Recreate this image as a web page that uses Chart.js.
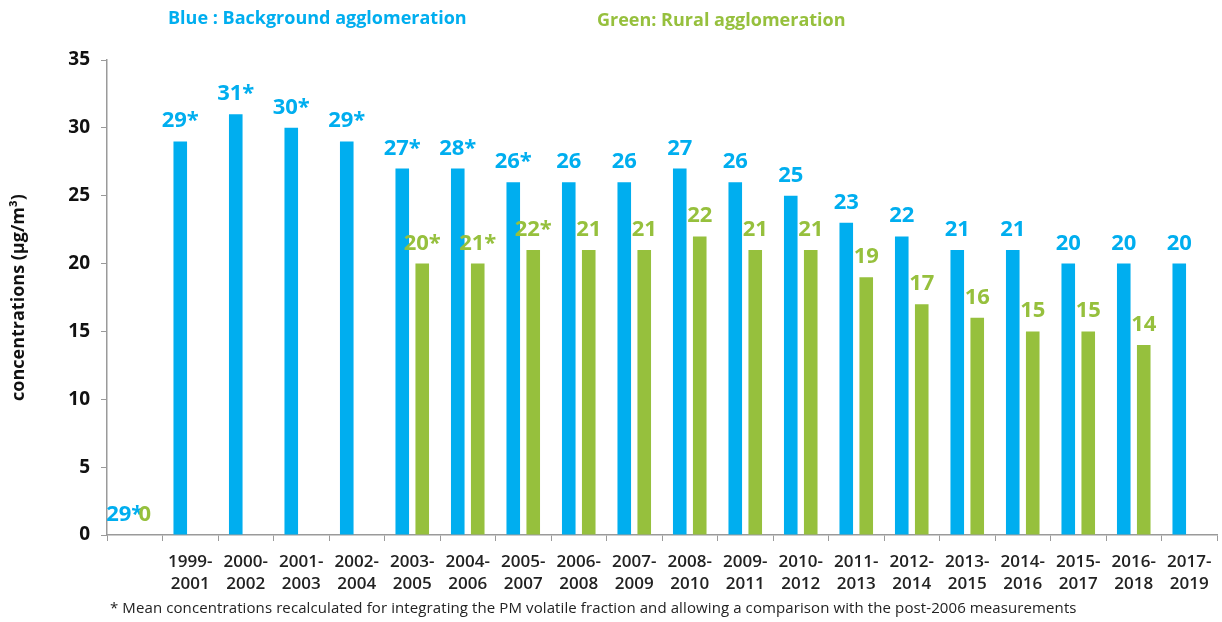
<!DOCTYPE html>
<html>
<head>
<meta charset="utf-8">
<script src="https://cdn.jsdelivr.net/npm/chart.js@4/dist/chart.umd.min.js"></script>
<style>
  body { margin: 0; background: #fff; }
  #wrap { position: relative; width: 1222px; height: 622px; font-family: "Open Sans", sans-serif; }
  canvas { position: absolute; left: 0; top: 0; }
  .note { position: absolute; white-space: nowrap; }
  #titleBlue { left: 168px; top: 5px; font-size: 18px; font-weight: 700; color: #00aeef; }
  #titleGreen { left: 597px; top: 7px; font-size: 18px; font-weight: 700; color: #96c03d; }
  #foot { left: 110px; top: 597px; font-size: 15px; color: #222; letter-spacing: 0.1px; }
</style>
</head>
<body>
<div id="wrap">
  <canvas id="chart" width="1222" height="622"></canvas>
  <div class="note" id="titleBlue">Blue : Background agglomeration</div>
  <div class="note" id="titleGreen">Green: Rural agglomeration</div>
  <div class="note" id="foot">* Mean concentrations recalculated for integrating the PM volatile fraction and allowing a comparison with the post-2006 measurements</div>
</div>
<script>
// Categories (first slot is empty)
const periods = ["", ["1999-", "2001"], ["2000-", "2002"], ["2001-", "2003"], ["2002-", "2004"],
    ["2003-", "2005"], ["2004-", "2006"], ["2005-", "2007"], ["2006-", "2008"], ["2007-", "2009"],
    ["2008-", "2010"], ["2009-", "2011"], ["2010-", "2012"], ["2011-", "2013"], ["2012-", "2014"],
    ["2013-", "2015"], ["2014-", "2016"], ["2015-", "2017"], ["2016-", "2018"], ["2017-", "2019"]];

// Bar heights as drawn
const blueValues = [0, 29, 31, 30, 29, 27, 27, 26, 26, 26, 27, 26, 25, 23, 22, 21, 21, 20, 20, 20];
const greenValues = [0, null, null, null, null, 20, 20, 21, 21, 21, 22, 21, 21, 19, 17, 16, 15, 15, 14, null];

// Printed value labels
const blueLabels = ["29*", "29*", "31*", "30*", "29*", "27*", "28*", "26*", "26", "26", "27", "26", "25", "23", "22", "21", "21", "20", "20", "20"];
const greenLabels = ["0", null, null, null, null, "20*", "21*", "22*", "21", "21", "22", "21", "21", "19", "17", "16", "15", "15", "14", null];

const yTicks = [0, 5, 10, 15, 20, 25, 30, 35];

const BLUE = "#00aeef";
const GREEN = "#96c03d";
const AXIS = "#9a9a9a";

// Draw value labels above bars
const valueLabels = {
    id: "valueLabels",
    afterDatasetsDraw(chart) {
        const ctx = chart.ctx;
        ctx.save();
        ctx.font = "bold 22px 'Open Sans'";
        ctx.textAlign = "center";
        ctx.textBaseline = "alphabetic";
        chart.data.datasets.forEach((ds, i) => {
            const meta = chart.getDatasetMeta(i);
            meta.data.forEach((bar, j) => {
                const txt = ds.labels[j];
                if (txt == null) return;
                ctx.fillStyle = ds.backgroundColor;
                ctx.fillText(txt, bar.x, bar.y - 14);
            });
        });
        ctx.restore();
    }
};

new Chart(document.getElementById("chart"), {
    type: "bar",
    data: {
        labels: periods,
        datasets: [
            { data: blueValues, labels: blueLabels, backgroundColor: BLUE },
            { data: greenValues, labels: greenLabels, backgroundColor: GREEN }
        ]
    },
    options: {
        responsive: false,
        animation: false,
        devicePixelRatio: 1,
        layout: { padding: { top: 60, right: 5, bottom: 0, left: 0 } },
        plugins: {
            legend: { display: false },
            tooltip: { enabled: false }
        },
        datasets: {
            bar: { categoryPercentage: 0.72, barPercentage: 0.68 }
        },
        scales: {
            x: {
                grid: { drawOnChartArea: false, drawTicks: true, tickLength: 6, offset: true, color: AXIS },
                border: { color: AXIS, width: 1.5 },
                ticks: {
                    color: "#222",
                    font: { family: "Open Sans", size: 17, weight: "600", lineHeight: 1.3 },
                    padding: 10,
                    maxRotation: 0,
                    autoSkip: false
                },
                afterFit(scale) { scale.height = 87; }
            },
            y: {
                min: 0,
                max: 35,
                afterBuildTicks(scale) { scale.ticks = yTicks.map(v => ({ value: v })); },
                grid: { drawOnChartArea: false, drawTicks: true, tickLength: 6, color: AXIS },
                border: { color: AXIS, width: 1.5 },
                ticks: {
                    color: "#111",
                    font: { family: "Open Sans", size: 19, weight: "bold" },
                    padding: 11
                },
                title: {
                    display: true,
                    text: "concentrations (µg/m³)",
                    color: "#111",
                    font: { family: "Open Sans", size: 18, weight: "bold" },
                    padding: { top: 8, bottom: 4 }
                },
                afterFit(scale) { scale.width = 107; }
            }
        }
    },
    plugins: [valueLabels]
});
</script>
</body>
</html>
